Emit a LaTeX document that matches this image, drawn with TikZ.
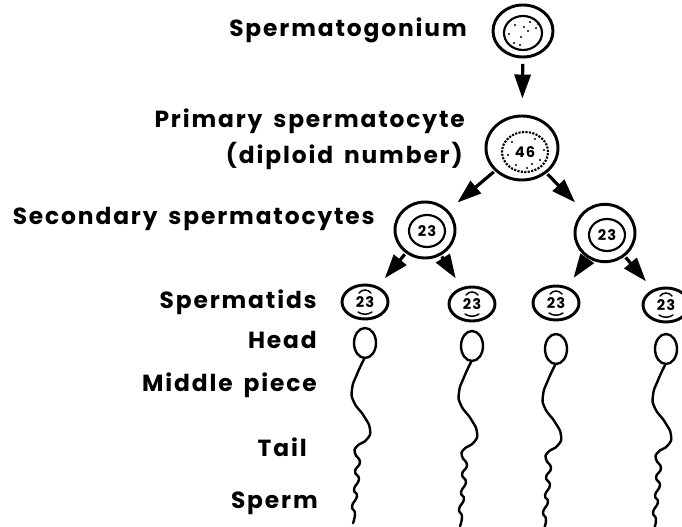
\documentclass[tikz,border=0pt]{standalone}
\usepackage{fontspec}
\setmainfont{Poppins}[LetterSpace=8, WordSpace=1.6]
\usepackage{tikz}
\usetikzlibrary{arrows.meta,shapes.geometric}
\tikzset{>={Triangle[width=12pt,length=18pt]}}
\tikzstyle{cell}=[ellipse, draw=black, line width=2.2pt, inner sep=0pt]
\tikzstyle{nucleus}=[ellipse, draw=black, line width=1.6pt, inner sep=0pt, font=\bfseries\fontsize{11}{11}\selectfont]
\tikzstyle{spermatid}=[ellipse, draw=black, line width=2.2pt, inner sep=0pt, minimum width=34.5pt, minimum height=25.5pt, font=\bfseries\fontsize{11}{11}\selectfont]
\tikzstyle{head}=[ellipse, draw=black, line width=1.8pt, inner sep=0pt, minimum width=16.5pt, minimum height=22.5pt]
\tikzstyle{label-text}=[anchor=base east, inner sep=0pt, font=\bfseries\fontsize{17.5}{20}\selectfont]
\tikzstyle{split}=[->, line width=2.4pt]
\tikzstyle{chromo-line}=[line width=1.1pt, line cap=round]
\tikzstyle{tail-line}=[line width=1.8pt, line cap=round]

\begin{document}
\begin{tikzpicture}[x=0.75pt, y=-0.75pt]
  \useasboundingbox (0,0) rectangle (682,527);
  \clip (0,0) rectangle (682,527);

  % spermatogonium
  \node[cell, minimum width=45pt, minimum height=39pt] (sg) at (523,31) {};
  \node[nucleus, minimum width=28.5pt, minimum height=25.5pt] (sg-n) at (523,33) {};
  \foreach \x/\y in {515/25, 530/22, 536/28, 509/34, 521/37, 528/31, 514/43, 520/45, 538/24, 524/27}
    \fill (\x,\y) circle (1.2);

  % primary spermatocyte
  \node[cell, minimum width=54pt, minimum height=48pt] (pc) at (522,148) {};
  \node[nucleus, densely dotted, minimum width=34.5pt, minimum height=30pt] (pc-n) at (525,152) {46};
  \foreach \x/\y in {512/142, 535/139, 540/160, 516/165, 527/168, 544/150, 508/155, 532/164}
    \fill (\x,\y) circle (1.1);

  % secondary spermatocytes
  \node[cell, minimum width=45pt, minimum height=42pt] (sc1) at (425,230) {};
  \node[nucleus, minimum width=27pt, minimum height=24pt] (sc1-n) at (427,231) {23};
  \node[cell, minimum width=45pt, minimum height=43pt] (sc2) at (605,233) {};
  \node[nucleus, minimum width=27pt, minimum height=24pt] (sc2-n) at (607,235) {23};

  % spermatids and sperm
  \foreach \n/\x/\y/\h in {1/365/302/343, 2/472/304/346, 3/556/303/349, 4/666/305/349} {
    \node[spermatid] (st\n) at (\x,\y) {23};
    \draw[chromo-line] ([shift={(-6,-9)}]st\n.center) .. controls +(3,-4) and +(-3,-4) .. ++(12,0);
    \draw[chromo-line] ([shift={(-7,10)}]st\n.center) .. controls +(4,3) and +(-4,3) .. ++(14,0);
    \node[head] (hd\n) at (\x,\h) {};
    \draw[tail-line, shift={(hd\n.south)}] plot[smooth, tension=0.9] coordinates
      {(-1,0) (-8,15) (-13,30) (-11,43) (-1,57) (5,70) (2,80) (-8,87) (-10,94) (-5,103)
       (-10,112) (-6,120) (-11,130) (-8,137) (-13,147) (-10,154) (-12,164)};
  }

  % divisions
  \draw[split, shorten <=4pt, shorten >=12pt] (sg) -- (pc);
  \draw[split, shorten <=1pt, shorten >=9pt] (pc) -- (sc1);
  \draw[split, shorten <=1pt, shorten >=9pt] (pc) -- (sc2);
  \draw[split, shorten <=1pt, shorten >=8pt] (sc1) -- (st1);
  \draw[split, shorten <=1pt, shorten >=8pt] (sc1) -- (st2);
  \draw[split, shorten <=1pt, shorten >=8pt] (sc2) -- (st3);
  \draw[split, shorten <=1pt, shorten >=8pt] (sc2) -- (st4);

  % stage names
  \node[label-text] (l-sg) at (467,37) {Spermatogonium};
  \node[label-text] (l-pc) at (465,128) {Primary spermatocyte};
  \node[label-text] (l-dip) at (463,164) {(diploid number)};
  \node[label-text] (l-sc) at (375,225) {Secondary spermatocytes};
  \node[label-text] (l-st) at (317,309) {Spermatids};
  \node[label-text] (l-hd) at (317,349) {Head};
  \node[label-text] (l-mp) at (317,391) {Middle piece};
  \node[label-text] (l-tl) at (307,456) {Tail};
  \node[label-text] (l-sp) at (318,508) {Sperm};
\end{tikzpicture}
\end{document}
